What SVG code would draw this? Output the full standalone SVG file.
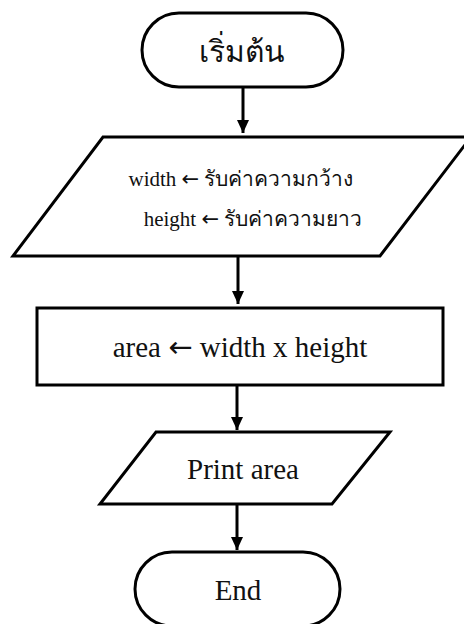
<svg xmlns="http://www.w3.org/2000/svg" width="464" height="624" viewBox="0 0 464 624">
<defs>
<style>
.shape{fill:#fff;stroke:#000;stroke-width:3;stroke-linejoin:miter}
.conn{stroke:#000;stroke-width:3;fill:none}
text{font-family:"Liberation Serif","Times New Roman",serif;fill:#111;text-anchor:middle}
.arr{font-family:"DejaVu Sans",sans-serif}
</style>
<marker id="ah" markerUnits="userSpaceOnUse" markerWidth="14" markerHeight="14" viewBox="0 0 14 14" refX="13" refY="7" orient="auto">
<path d="M0,1 L13,7 L0,13 Z" fill="#000"/>
</marker>
</defs>
<rect width="464" height="624" fill="#fff"/>
<g id="connectors">
<line class="conn" x1="243" y1="87" x2="243" y2="133" marker-end="url(#ah)"/>
<line class="conn" x1="238" y1="257" x2="238" y2="304" marker-end="url(#ah)"/>
<line class="conn" x1="237" y1="386" x2="237" y2="430" marker-end="url(#ah)"/>
<line class="conn" x1="237" y1="505" x2="237" y2="550" marker-end="url(#ah)"/>
</g>
<g id="start">
<rect class="shape" x="142" y="13" width="201" height="74" rx="37" ry="37"/>
<text x="242" y="62" font-size="30">เริ่มต้น</text>
</g>
<g id="input">
<polygon class="shape" points="103,137 471,137 380,256 13,256"/>
<text x="241" y="186" font-size="21">width <tspan class="arr">←</tspan> รับค่าความกว้าง</text>
<text x="253" y="226" font-size="21">height <tspan class="arr">←</tspan> รับค่าความยาว</text>
</g>
<g id="process">
<rect class="shape" x="37" y="308" width="406" height="77"/>
<text x="240" y="357" font-size="29">area <tspan class="arr">←</tspan> width x height</text>
</g>
<g id="output">
<polygon class="shape" points="156,432 390,432 332,504 100,504"/>
<text x="243" y="479" font-size="29">Print area</text>
</g>
<g id="end">
<rect class="shape" x="135" y="552" width="205" height="74" rx="37" ry="37"/>
<text x="238" y="600" font-size="29">End</text>
</g>
</svg>
